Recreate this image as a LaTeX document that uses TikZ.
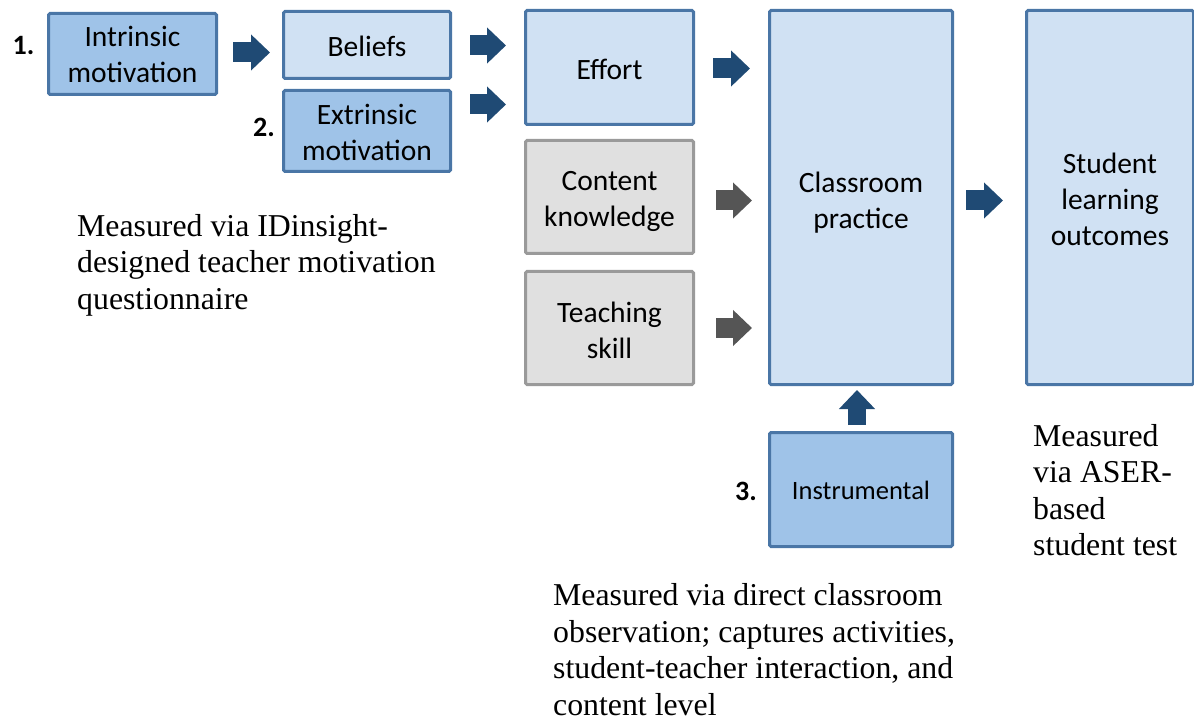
\documentclass[tikz,border=0pt]{standalone}
\usepackage{fontspec}
\setmainfont{Liberation Serif}
\newfontfamily\carlitofont{Carlito}
\usetikzlibrary{arrows.meta,positioning}
\definecolor{medfill}{HTML}{9FC3E8}
\definecolor{lightfill}{HTML}{D0E1F3}
\definecolor{bluebord}{HTML}{4A76A6}
\definecolor{grayfill}{HTML}{E0E0E0}
\definecolor{graybord}{HTML}{9A9A9A}
\definecolor{darkarrow}{HTML}{1F4A74}
\definecolor{grayarrow}{HTML}{555555}
\newcommand{\upstrut}[1]{\rule{0pt}{#1}}
\tikzset{
  box/.style={draw=bluebord, line width=3pt, rounded corners=1.5pt, anchor=north west,
    inner sep=0pt, align=center, font=\carlitofont\fontsize{29.5}{36}\selectfont, text=black},
  medbox/.style={box, fill=medfill},
  lightbox/.style={box, fill=lightfill},
  graybox/.style={box, fill=grayfill, draw=graybord},
  barrow/.style={line width=20pt, draw=darkarrow, -{Triangle[length=19pt,width=35pt]}},
  garrow/.style={barrow, draw=grayarrow},
  num/.style={font=\carlitofont\bfseries\fontsize{28}{34}\selectfont, inner sep=0pt, anchor=center},
  meas/.style={font=\fontsize{31.8}{36.5}\selectfont, align=left, inner sep=0pt, anchor=base west}
}
\begin{document}
\begin{tikzpicture}[x=1pt,y=-1pt]
\useasboundingbox (0,0) rectangle (1194,719);
\node[medbox, minimum width=168pt, minimum height=81pt] (intr) at (47,12) {Intrinsic\\motivation};
\node[lightbox, minimum width=167pt, minimum height=67pt] (beliefs) at (282,10) {\upstrut{23pt}Beliefs};
\node[medbox, minimum width=167pt, minimum height=81pt] (extr) at (282,89) {\upstrut{23pt}Extrinsic\\motivation};
\node[lightbox, minimum width=168pt, minimum height=114pt] (effort) at (524,9) {\upstrut{25pt}Effort};
\node[graybox, minimum width=168pt, minimum height=113pt] (content) at (524,139) {\upstrut{28pt}Content\\knowledge};
\node[graybox, minimum width=168pt, minimum height=113pt] (teach) at (524,270) {\upstrut{25pt}Teaching\\skill};
\node[lightbox, minimum width=183pt, minimum height=374pt] (class) at (768,9) {\upstrut{30pt}Classroom\\practice};
\node[lightbox, minimum width=167pt, minimum height=374pt] (student) at (1025,9) {\upstrut{24pt}Student\\learning\\outcomes};
\node[medbox, minimum width=183pt, minimum height=114pt, font=\carlitofont\fontsize{26.5}{32}\selectfont] (instr) at (768,431) {\upstrut{20pt}Instrumental};

\node[num] (n1) at (23.5,46) {1.};
\node[num] (n2) at (264,127) {2.};
\node[num] (n3) at (746,491) {3.};

\draw[barrow] (intr.east) ++(15,-1.5) -- ++(37,0);
\draw[barrow] (beliefs.east) ++(18,0.5) -- ++(36,0);
\draw[barrow] (extr.east) ++(18,-26.5) -- ++(36,0);
\draw[barrow] (effort.east) ++(18,1) -- ++(37,0);
\draw[garrow] (content.east) ++(21,3.5) -- ++(36,0);
\draw[garrow] (teach.east) ++(21,0) -- ++(36,0);
\draw[barrow] (class.east) ++(12,3) -- ++(37,0);
\draw[barrow, line width=18pt] (instr.north) ++(-4,-6) -- ++(0,-35);

\node[meas] (m1) at (77,309) {Measured via IDinsight-\\designed teacher motivation\\questionnaire};
\node[meas] (m2) at (1033,555.5) {Measured\\via ASER-\\based\\student test};
\node[meas] (m3) at (553,715) {Measured via direct classroom\\observation; captures activities,\\student-teacher interaction, and\\content level};
\end{tikzpicture}
\end{document}
